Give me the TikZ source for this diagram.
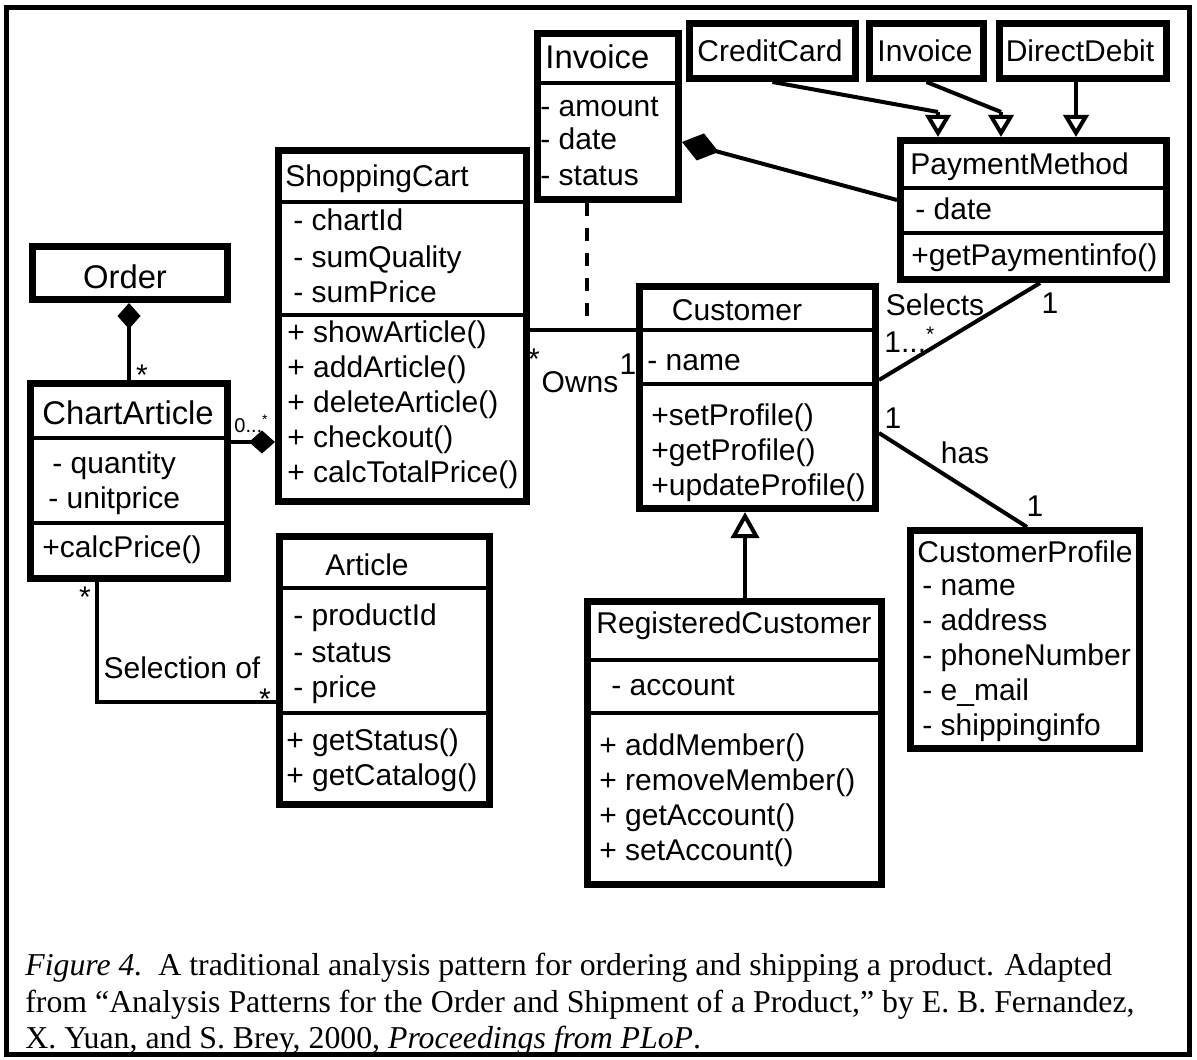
\documentclass[tikz,border=0pt]{standalone}
\usepackage{fontspec}
\setmainfont{Liberation Sans}
\newfontfamily\captionserif{Liberation Serif}
\usetikzlibrary{arrows.meta,fit}

\begin{document}
\begin{tikzpicture}[x=0.5pt,y=-0.5pt,
    classbox/.style={draw, line width=3.5pt, inner sep=0pt},
    divider/.style={line width=2pt},
    member/.style={anchor=base west, inner sep=0pt, font=\fontsize{15}{18}\selectfont},
    classname/.style={anchor=base, inner sep=0pt, font=\fontsize{15}{18}\selectfont},
    bigname/.style={font=\fontsize{16.4}{19}\selectfont},
    lbl/.style={anchor=base, inner sep=0pt, font=\fontsize{15}{18}\selectfont},
    assoc/.style={line width=2pt},
    assocclass/.style={line width=2.25pt, dash pattern=on 6.5pt off 6pt},
    inherit/.style={line width=2pt, -{Triangle[open, length=11pt, width=12.5pt]}},
    generalize/.style={line width=2pt, -{Triangle[open, length=13pt, width=14pt]}},
    compose/.style={line width=2pt, -{Diamond[length=19pt, width=14pt]}},
    composesmall/.style={line width=2pt, -{Diamond[length=13pt, width=11.5pt]}},
    capline/.style={anchor=base west, inner sep=0pt, font=\captionserif\fontsize{15.9}{19}\selectfont}]
  \useasboundingbox (0,0) rectangle (1197,1059);
  \draw[line width=2.5pt] (6.5,7.5) rectangle (1189.5,1054.5);

  % Invoice
  \node[classbox, fit={(537.5,33.5) (678.5,199.5)}] (inv) {};
  \draw[divider] (537.5,83) -- (678.5,83);
  \node[member, bigname] (inv-name) at (545,69) {Invoice};
  \foreach \y/\t [count=\i] in {117/- amount, 150/- date, 185/- status}
    \node[member] (inv-a\i) at (540,\y) {\t};

  % payment kinds
  \node[classbox, fit={(689.5,23.5) (855.5,78.5)}] (cc) {};
  \node[classname] (cc-name) at (770,62) {CreditCard};
  \node[classbox, fit={(869.5,23.5) (983.5,78.5)}] (inv2) {};
  \node[classname] (inv2-name) at (925,62) {Invoice};
  \node[classbox, fit={(999.5,23.5) (1166.5,78.5)}] (dd) {};
  \node[classname] (dd-name) at (1080,62) {DirectDebit};

  % PaymentMethod
  \node[classbox, fit={(900.5,140.5) (1166.5,279.5)}] (pay) {};
  \draw[divider] (900.5,188) -- (1166.5,188);
  \draw[divider] (900.5,233) -- (1166.5,233);
  \node[member] (pay-name) at (910,175) {PaymentMethod};
  \node[member] (pay-a1) at (915,220) {- date};
  \node[member] (pay-m1) at (911,265) {+getPaymentinfo()};

  % ShoppingCart
  \node[classbox, fit={(278.5,150.5) (526.5,501.5)}] (cart) {};
  \draw[divider] (278.5,202) -- (526.5,202);
  \draw[divider] (278.5,315) -- (526.5,315);
  \node[member] (cart-name) at (285,187) {ShoppingCart};
  \foreach \y/\t [count=\i] in {230/- chartId, 267/- sumQuality, 302/- sumPrice}
    \node[member] (cart-a\i) at (293,\y) {\t};
  \foreach \y/\t [count=\i] in {342/+ showArticle(), 377/+ addArticle(), 412/+ deleteArticle(), 447/+ checkout(), 482/+ calcTotalPrice()}
    \node[member] (cart-m\i) at (287,\y) {\t};

  % Order and ChartArticle
  \node[classbox, fit={(32.5,246.5) (227.5,299.5)}] (order) {};
  \node[classname, bigname] (order-name) at (125,288) {Order};
  \node[classbox, fit={(30.5,383.5) (227.5,578.5)}] (chart) {};
  \draw[divider] (30.5,438) -- (227.5,438);
  \draw[divider] (30.5,523) -- (227.5,523);
  \node[member, bigname] (chart-name) at (42,424) {ChartArticle};
  \node[member] (chart-a1) at (52,473) {- quantity};
  \node[member] (chart-a2) at (48,508) {- unitprice};
  \node[member] (chart-m1) at (42,557) {+calcPrice()};

  % Article
  \node[classbox, fit={(279.5,536.5) (489.5,804.5)}] (art) {};
  \draw[divider] (279.5,588) -- (489.5,588);
  \draw[divider] (279.5,713) -- (489.5,713);
  \node[classname] (art-name) at (367,575) {Article};
  \foreach \y/\t [count=\i] in {625/- productId, 662/- status, 697/- price}
    \node[member] (art-a\i) at (293,\y) {\t};
  \foreach \y/\t [count=\i] in {750/+ getStatus(), 785/+ getCatalog()}
    \node[member] (art-m\i) at (286,\y) {\t};

  % Customer
  \node[classbox, fit={(639.5,286.5) (875.5,508.5)}] (cust) {};
  \draw[divider] (639.5,330) -- (875.5,330);
  \draw[divider] (639.5,384) -- (875.5,384);
  \node[classname] (cust-name) at (737,320) {Customer};
  \node[member] (cust-a1) at (647,370) {- name};
  \foreach \y/\t [count=\i] in {425/+setProfile(), 460/+getProfile(), 495/+updateProfile()}
    \node[member] (cust-m\i) at (651,\y) {\t};

  % RegisteredCustomer
  \node[classbox, fit={(587.5,601.5) (881.5,884.5)}] (reg) {};
  \draw[divider] (587.5,660) -- (881.5,660);
  \draw[divider] (587.5,713) -- (881.5,713);
  \node[member] (reg-name) at (596,633) {RegisteredCustomer};
  \node[member] (reg-a1) at (611,695) {- account};
  \foreach \y/\t [count=\i] in {755/+ addMember(), 790/+ removeMember(), 825/+ getAccount(), 860/+ setAccount()}
    \node[member] (reg-m\i) at (599,\y) {\t};

  % CustomerProfile
  \node[classbox, fit={(910.5,530.5) (1139.5,748.5)}] (prof) {};
  \node[member] (prof-name) at (917,562) {CustomerProfile};
  \foreach \y/\t [count=\i] in {595/- name, 630/- address, 665/- phoneNumber, 700/- e\_mail, 735/- shippinginfo}
    \node[member] (prof-a\i) at (922,\y) {\t};

  % connectors
  \coordinate (ccbend) at (938,112);
  \coordinate (inv2bend) at (1001,112);
  \coordinate (ddcol) at (1076,112);
  \draw[assoc] (cc.south) -- (ccbend);
  \draw[inherit] (ccbend) -- (ccbend |- pay.north);
  \draw[assoc] (inv2.south) -- (inv2bend);
  \draw[inherit] (inv2bend) -- (inv2bend |- pay.north);
  \draw[inherit] (ddcol |- dd.south) -- (ddcol |- pay.north);

  \coordinate (invrow) at (0,142);
  \coordinate (payrow) at (0,200);
  \draw[compose] (pay.west |- payrow) -- (inv.east |- invrow);

  \draw[composesmall] (chart.north) -- (chart.north |- order.south);
  \coordinate (chartrow) at (0,442);
  \draw[composesmall] (chart.east |- chartrow) -- (cart.west |- chartrow);

  \coordinate (selcorner) at (97,702);
  \draw[assoc] (chart.south -| selcorner) -- (selcorner) -- (art.west |- selcorner);

  \coordinate (ownsmid) at (587,330);
  \draw[assoc] (cart.east |- ownsmid) -- (cust.west |- ownsmid);
  \draw[assocclass] (inv.south -| ownsmid) -- (ownsmid);

  \coordinate (selectsrow) at (0,380);
  \coordinate (selectscol) at (1040,0);
  \draw[assoc] (cust.east |- selectsrow) -- (pay.south -| selectscol);

  \coordinate (hasrow) at (0,433);
  \coordinate (hascol) at (1027,0);
  \draw[assoc] (cust.east |- hasrow) -- (prof.north -| hascol);

  \coordinate (gencol) at (745,0);
  \draw[generalize] (reg.north -| gencol) -- (cust.south -| gencol);

  % multiplicities and roles
  \node[lbl] (m-chart-top) at (142,385) {*};
  \node[lbl, anchor=base west, font=\fontsize{10}{12}\selectfont] (m-chart-cart) at (234,432) {0...\textsuperscript{*}};
  \node[lbl] (m-chart-bot) at (85,607) {*};
  \node[lbl] (r-selection) at (182,678) {Selection of};
  \node[lbl] (m-art) at (265,709) {*};
  \node[lbl] (m-cart) at (534,369) {*};
  \node[lbl] (r-owns) at (580,392) {Owns};
  \node[lbl] (m-cust-owns) at (628,374) {1};
  \node[lbl] (r-selects) at (935,315) {Selects};
  \node[lbl] (m-pay) at (1050,313) {1};
  \node[lbl, anchor=base west] (m-cust-sel) at (884,352) {1...\textsuperscript{*}};
  \node[lbl] (m-cust-has) at (893,428) {1};
  \node[lbl] (r-has) at (965,463) {has};
  \node[lbl] (m-prof) at (1035,516) {1};

  % caption
  \node[capline] (cap1) at (25,975) {\textit{Figure 4.}\ \ A traditional analysis pattern for ordering and shipping a product. Adapted};
  \node[capline] (cap2) at (25,1012) {from “Analysis Patterns for the Order and Shipment of a Product,” by E. B. Fernandez,};
  \node[capline] (cap3) at (25,1048) {X. Yuan, and S. Brey, 2000, \textit{Proceedings from PLoP}.};
\end{tikzpicture}
\end{document}
